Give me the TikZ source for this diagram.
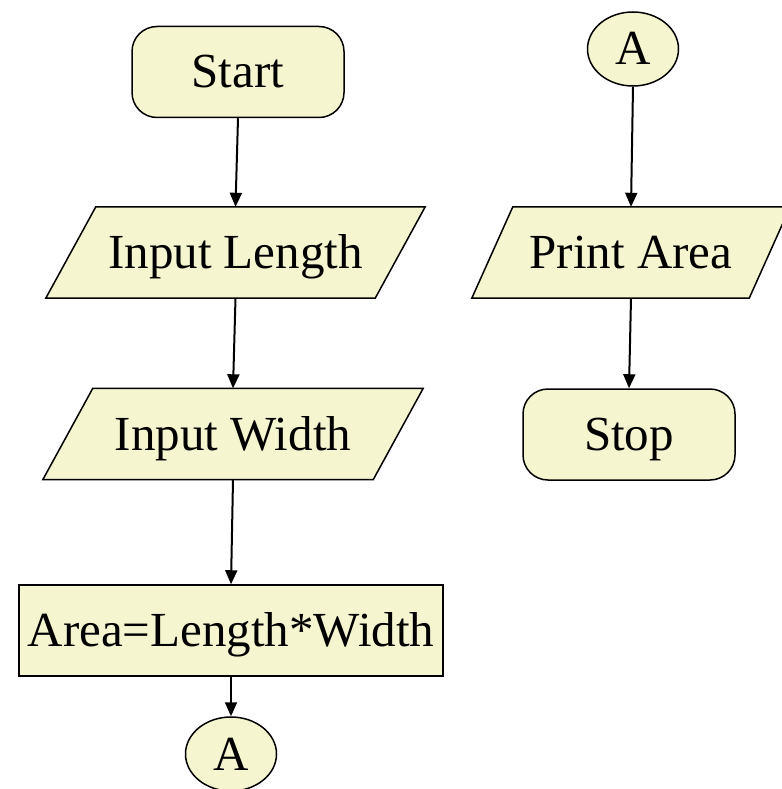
\documentclass[tikz,border=0pt]{standalone}
\usepackage{fontspec}
\setmainfont{Liberation Serif}
\usetikzlibrary{arrows.meta,shapes.geometric,backgrounds}

\definecolor{boxfill}{RGB}{245,246,208}

\tikzset{
  outline/.style={draw=black, line width=1.5pt, fill=boxfill},
  label/.style={font=\fontsize{49}{56}\selectfont, text height=32pt, text depth=0pt, inner sep=2pt},
  terminal/.style={label, outline, rounded corners=25pt, minimum width=212pt, minimum height=91pt},
  process/.style={label, outline, minimum width=424pt, minimum height=91pt},
  iobox/.style={label, minimum height=91pt},
  connector/.style={label, outline, ellipse, inner sep=0pt, minimum width=91pt, minimum height=74pt},
  flow/.style={line width=2pt, -{Triangle[width=12pt,length=14pt]}}
}

% parallelogram drawn behind an input/output node: #1 node, #2 half the slant
\newcommand\slantframe[2]{%
  \begin{scope}[on background layer]
    \path[outline] ([xshift=#2]#1.north west) -- ([xshift=#2]#1.north east)
      -- ([xshift=-#2]#1.south east) -- ([xshift=-#2]#1.south west) -- cycle;
  \end{scope}}

\begin{document}
\begin{tikzpicture}[x=1pt, y=-1pt]
  \useasboundingbox (0,0) rectangle (781,789);

  % left column
  \node[terminal] (start) at (238,72) {Start};
  \node[iobox, minimum width=329pt] (inlen) at (235.5,252.5) {Input Length};
  \node[iobox, minimum width=330pt] (inwid) at (233,434) {Input Width};
  \node[process] (area) at (231,630.5) {Area=Length*Width};
  \node[connector] (aout) at (231,754) {A};

  % right column
  \node[connector] (ain) at (633,49) {A};
  \node[iobox, minimum width=277pt] (print) at (631,252.5) {Print Area};
  \node[terminal] (stop) at (629,434.5) {Stop};

  \slantframe{inlen}{25pt}
  \slantframe{inwid}{25pt}
  \slantframe{print}{20.5pt}

  \draw[flow] (start.south) -- (inlen.north);
  \draw[flow] (inlen.south) -- (inwid.north);
  \draw[flow] (inwid.south) -- (area.north);
  \draw[flow] (area.south) -- (aout.north);
  \draw[flow] (ain.south) -- (print.north);
  \draw[flow] (print.south) -- (stop.north);
\end{tikzpicture}
\end{document}
